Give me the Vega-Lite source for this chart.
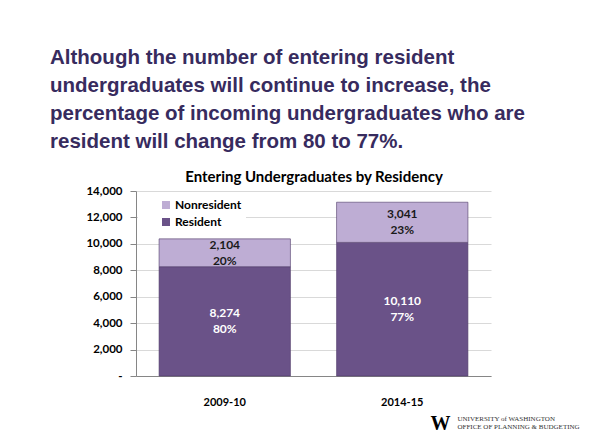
{
  "$schema": "https://vega.github.io/schema/vega-lite/v6.json",
  "width": 355,
  "height": 185,
  "autosize": {"type": "none"},
  "padding": {"left": 136, "top": 191, "right": 111, "bottom": 71},
  "background": "white",
  "title": {
    "text": ["Although the number of entering resident", "undergraduates will continue to increase, the", "percentage of incoming undergraduates who are", "resident will change from 80 to 77%."],
    "anchor": "start",
    "frame": "group",
    "dx": -86,
    "offset": 17,
    "font": "Liberation Sans",
    "fontSize": 20.5,
    "fontWeight": "bold",
    "color": "#372B5E",
    "lineHeight": 28
  },
  "data": {
    "values": [
      {"year": "2009-10", "type": "Resident", "count": 8274, "pct": 0.80, "ord": 1},
      {"year": "2009-10", "type": "Nonresident", "count": 2104, "pct": 0.20, "ord": 2},
      {"year": "2014-15", "type": "Resident", "count": 10110, "pct": 0.77, "ord": 1},
      {"year": "2014-15", "type": "Nonresident", "count": 3041, "pct": 0.23, "ord": 2}
    ]
  },
  "resolve": {"axis": {"x": "independent", "y": "independent"}},
  "layer": [
    {
      "mark": {"type": "bar", "stroke": "#4E3B68", "strokeWidth": 1, "strokeOpacity": 0.6},
      "encoding": {
        "x": {
          "field": "year", "type": "nominal",
          "scale": {"paddingInner": 0.26, "paddingOuter": 0.13},
          "axis": {
            "title": ["UNIVERSITY of WASHINGTON", "OFFICE OF PLANNING & BUDGETING"],
            "titleX": 321, "titleY": 42, "titleAlign": "left", "titleAnchor": null,
            "titleBaseline": "middle",
            "titleFont": "Liberation Serif", "titleFontSize": 7, "titleFontWeight": "normal",
            "titleColor": "#333333", "titleLineHeight": 8,
            "labelAngle": 0, "labelFont": "Lato", "labelFontWeight": "bold", "labelFontSize": 11,
            "labelColor": "#000000", "labelPadding": 20, "ticks": false,
            "domainColor": "#868686"
          }
        },
        "y": {
          "field": "count", "type": "quantitative", "stack": "zero",
          "scale": {"domain": [0, 14000]},
          "axis": {
            "values": [0, 2000, 4000, 6000, 8000, 10000, 12000, 14000],
            "labelExpr": "datum.value == 0 ? '-' : format(datum.value, ',')",
            "labelFont": "Lato", "labelFontWeight": "bold", "labelFontSize": 11.5,
            "labelColor": "#000000", "labelPadding": 8,
            "tickSize": 6, "tickColor": "#868686", "domainColor": "#868686",
            "gridColor": "#D9D9D9",
            "title": "W", "titleAngle": 0, "titleX": 304, "titleY": 232,
            "titleAlign": "center", "titleBaseline": "middle",
            "titleFont": "Liberation Serif", "titleFontSize": 20, "titleFontWeight": "bold",
            "titleColor": "#000000"
          }
        },
        "color": {
          "field": "type", "type": "nominal",
          "scale": {"domain": ["Nonresident", "Resident"], "range": ["#BEADD4", "#6A5288"]},
          "legend": {
            "title": null, "orient": "none", "legendX": 2, "legendY": 4,
            "fillColor": "white", "padding": 4,
            "symbolOffset": 18,
            "symbolType": "square", "symbolSize": 64, "symbolStrokeWidth": 0,
            "labelOffset": 3,
            "labelFont": "Lato", "labelFontWeight": "bold", "labelFontSize": 12,
            "labelColor": "#000000", "rowPadding": 5
          }
        },
        "order": {"field": "ord", "type": "quantitative"}
      }
    },
    {
      "transform": [
        {"stack": "count", "groupby": ["year"], "sort": [{"field": "ord", "order": "ascending"}], "as": ["c0", "c1"]},
        {"calculate": "(datum.c0 + datum.c1) / 2", "as": "cmid"}
      ],
      "mark": {"type": "text", "dy": -8, "font": "Lato", "fontWeight": "bold", "fontSize": 12, "baseline": "middle"},
      "encoding": {
        "x": {
          "field": "year", "type": "nominal",
          "axis": {"orient": "top", "labels": false, "ticks": false, "domain": false, "grid": false,
            "title": "Entering Undergraduates by Residency", "titleFont": "Lato", "titleFontWeight": "bold",
            "titleFontSize": 15, "titleColor": "#000000", "titlePadding": 7}
        },
        "y": {"field": "cmid", "type": "quantitative", "axis": null},
        "text": {"field": "count", "type": "quantitative", "format": ","},
        "color": {"condition": {"test": "datum.type == 'Resident'", "value": "#FFFFFF"}, "value": "#1A1A1A"}
      }
    },
    {
      "transform": [
        {"stack": "count", "groupby": ["year"], "sort": [{"field": "ord", "order": "ascending"}], "as": ["c0", "c1"]},
        {"calculate": "(datum.c0 + datum.c1) / 2", "as": "cmid"}
      ],
      "mark": {"type": "text", "dy": 8, "font": "Lato", "fontWeight": "bold", "fontSize": 12, "baseline": "middle"},
      "encoding": {
        "x": {"field": "year", "type": "nominal", "axis": null},
        "y": {"field": "cmid", "type": "quantitative", "axis": null},
        "text": {"field": "pct", "type": "quantitative", "format": ".0%"},
        "color": {"condition": {"test": "datum.type == 'Resident'", "value": "#FFFFFF"}, "value": "#1A1A1A"}
      }
    }
  ],
  "config": {
    "view": {"stroke": null}
  }
}
